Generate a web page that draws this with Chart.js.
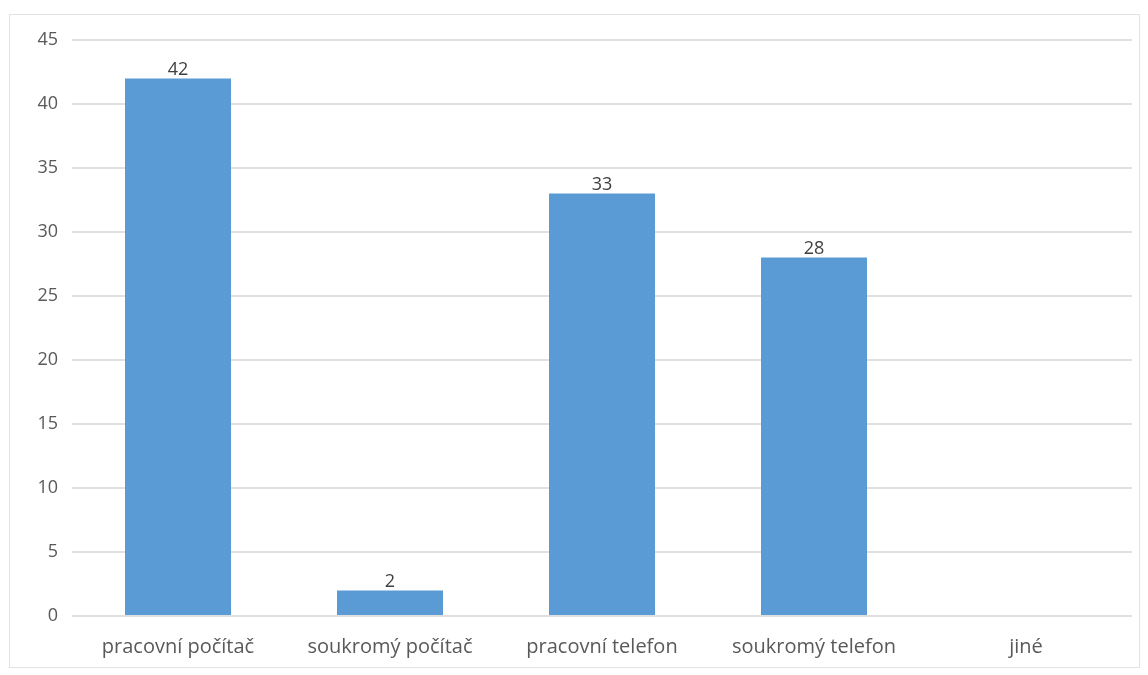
<!DOCTYPE html>
<html lang="cs">
<head>
    <meta charset="UTF-8">
    <title>Zařízení</title>
    <script src="https://cdn.jsdelivr.net/npm/chart.js"></script>
    <style>
        body { margin: 0; background: #fff; }
        .frame {
            position: absolute;
            left: 9px; top: 14px;
            width: 1131px; height: 654px;
            border: 1px solid #e3e3e3;
            box-sizing: border-box;
        }
        .chart-container {
            position: absolute;
            left: 0; top: 0;
            width: 1148px; height: 675px;
        }
    </style>
</head>
<body>
    <div class="frame"></div>
    <div class="chart-container">
        <canvas id="deviceChart"></canvas>
    </div>
    <script>
        const categories = ['pracovní počítač', 'soukromý počítač', 'pracovní telefon', 'soukromý telefon', 'jiné'];
        const counts = [42, 2, 33, 28, null];
        const yTicks = [0, 5, 10, 15, 20, 25, 30, 35, 40, 45];

        const fontFamily = '"Open Sans", "Noto Sans", sans-serif';

        // values above the bars
        const valueLabels = {
            id: 'valueLabels',
            afterDatasetsDraw(chart) {
                const ctx = chart.ctx;
                const meta = chart.getDatasetMeta(0);
                ctx.save();
                ctx.font = '18px ' + fontFamily;
                ctx.fillStyle = '#404040';
                ctx.textAlign = 'center';
                ctx.textBaseline = 'bottom';
                meta.data.forEach(function (bar, i) {
                    const v = counts[i];
                    if (v === null) return;
                    ctx.fillText(String(v), bar.x, bar.y);
                });
                ctx.restore();
            }
        };

        var ctx = document.getElementById('deviceChart').getContext('2d');
        new Chart(ctx, {
            type: 'bar',
            data: {
                labels: categories,
                datasets: [{
                    data: counts,
                    backgroundColor: '#5b9bd5',
                    categoryPercentage: 1,
                    barPercentage: 0.5
                }]
            },
            options: {
                responsive: true,
                maintainAspectRatio: false,
                animation: false,
                layout: { padding: { top: 40, right: 16, bottom: 0, left: 0 } },
                plugins: {
                    legend: { display: false },
                    tooltip: { enabled: false }
                },
                scales: {
                    x: {
                        grid: { display: false },
                        border: { display: false },
                        ticks: {
                            color: '#595959',
                            font: { family: fontFamily, size: 20 },
                            padding: 11,
                            maxRotation: 0
                        },
                        afterFit(scale) { scale.height = 59; }
                    },
                    y: {
                        min: 0,
                        max: 45,
                        afterBuildTicks(scale) {
                            scale.ticks = yTicks.map(v => ({ value: v }));
                        },
                        grid: { color: '#e0e0e0', lineWidth: 2, drawTicks: false },
                        border: { display: false },
                        ticks: {
                            color: '#595959',
                            font: { family: fontFamily, size: 18 },
                            padding: 14
                        },
                        afterFit(scale) { scale.width = 72; }
                    }
                }
            },
            plugins: [valueLabels]
        });
    </script>
</body>
</html>
